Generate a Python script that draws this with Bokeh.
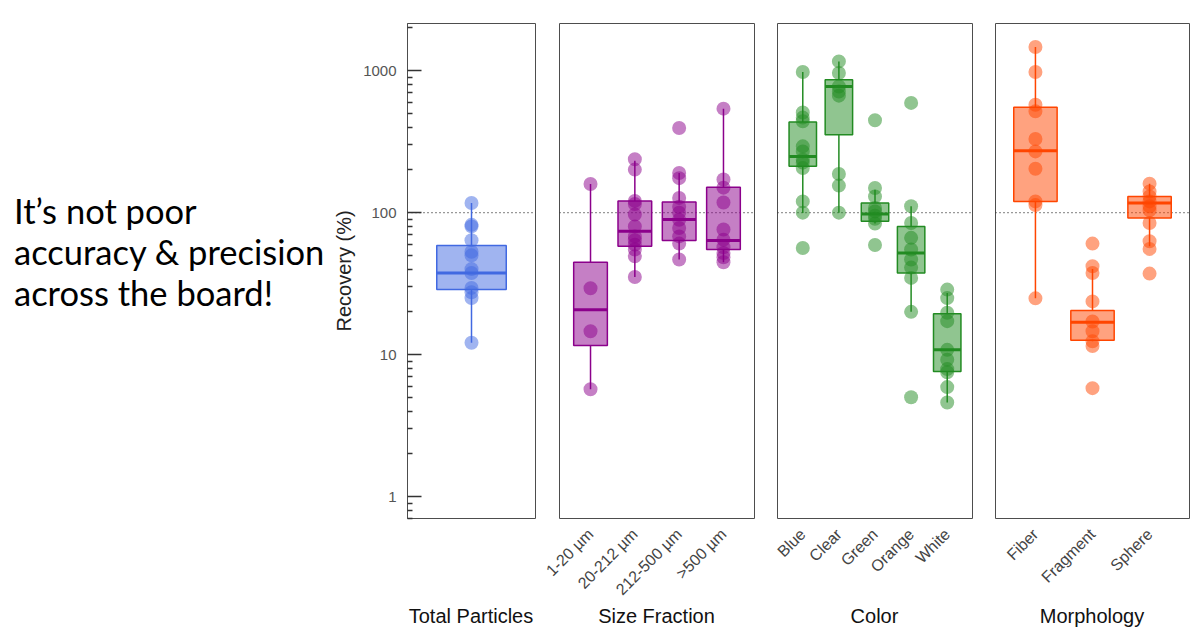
from math import pi

from bokeh.embed import file_html
from bokeh.layouts import row, column
from bokeh.models import (ColumnDataSource, Div, FactorRange, FixedTicker,
                          NumeralTickFormatter, Range1d, Spacer, Span)
from bokeh.plotting import figure
from bokeh.resources import INLINE
from bokeh.transform import dodge

# ---- data: recovery (%) per group -------------------------------------
total_cats = ["Total Particles"]
total_q1 = [28.7]
total_med = [37.6]
total_q3 = [58.6]
total_lo = [12.1]
total_hi = [117]
total_pts = [[117, 82, 80, 64, 53, 50, 40, 37.6, 29.5, 27.5, 25, 12.1]]

size_cats = ["1-20 µm", "20-212 µm", "212-500 µm", ">500 µm"]
size_q1 = [11.6, 57.9, 63.5, 54.9]
size_med = [20.7, 74, 89.3, 63.5]
size_q3 = [44.7, 121, 119, 151]
size_lo = [5.7, 35.2, 46.7, 44.7]
size_hi = [159, 232, 190, 540]
size_pts = [
    [159, 29.3, 14.6, 5.7],
    [238, 201, 121, 115, 97, 80, 68, 64, 59.5, 55, 49.3, 35.2],
    [395, 190, 175, 127, 110, 100, 89, 78, 68, 60.5, 46.7],
    [540, 171, 150, 118, 76, 64.5, 57, 52, 48.5, 44.7],
]

color_cats = ["Blue", "Clear", "Green", "Orange", "White"]
color_q1 = [212, 354, 86.9, 37.6, 7.6]
color_med = [249, 774, 97.9, 52, 10.8]
color_q3 = [435, 865, 117, 80, 19.4]
color_lo = [99.5, 100, 84, 20, 4.6]
color_hi = [979, 1163, 145, 111, 27.2]
color_pts = [
    [979, 508, 467, 440, 293, 270, 236, 225, 206, 120, 100, 56.4],
    [1163, 964, 774, 714, 667, 187, 155, 100],
    [447, 149, 130, 108, 102, 95, 90.6, 83.7, 59.2],
    [593, 111, 84.6, 66.4, 55, 46.7, 41, 34.7, 20, 5.0],
    [28.7, 25, 19.7, 17.2, 10.8, 9.2, 7.9, 7.5, 5.9, 4.6],
]

morph_cats = ["Fiber", "Fragment", "Sphere"]
morph_q1 = [120, 12.6, 91.7]
morph_med = [273, 16.9, 117]
morph_q3 = [552, 20.4, 130]
morph_lo = [24.9, 12.4, 57.9]
morph_hi = [1469, 40, 160]
morph_pts = [
    [1469, 979, 576, 517, 330, 270, 204, 120, 113, 24.9],
    [60.5, 41.9, 37.6, 23.7, 17.1, 14.6, 12.4, 11.5, 5.8],
    [160, 141, 130, 120, 111, 104, 84.6, 62.8, 55.5, 37.2],
]

group_titles = ["Total Particles", "Size Fraction", "Color", "Morphology"]

# ---- styling -----------------------------------------------------------
FONT = "Liberation Sans"
Y_START, Y_END = 0.70, 2150
FRAME_H = 495
BOTTOM = 90
TITLE_H = 28
BOX_W = 0.76


def panel(cats, q1, med, q3, lo, hi, pts, color, frame_w, left, right,
          show_y=False, show_x=True):
    p = figure(
        x_range=FactorRange(factors=cats, range_padding=0.2,
                            range_padding_units="absolute"),
        y_range=Range1d(Y_START, Y_END), y_axis_type="log",
        frame_width=frame_w, frame_height=FRAME_H,
        min_border_left=left, min_border_right=right,
        min_border_top=23, min_border_bottom=BOTTOM,
        x_axis_location="below" if show_x else None,
        y_axis_location="left" if show_y else None,
        toolbar_location=None, output_backend="svg",
    )
    p.margin = 0
    p.grid.visible = False
    p.outline_line_color = "#4d4d4d"
    p.outline_line_width = 1
    p.background_fill_color = "white"
    p.border_fill_color = "white"

    p.add_layout(Span(location=100, dimension="width", line_color="#333333",
                      line_dash="1 3", line_width=1.4, level="underlay"))

    src = ColumnDataSource(dict(cat=cats, q1=q1, med=med, q3=q3, lo=lo, hi=hi))
    # whiskers
    p.segment(x0="cat", y0="lo", x1="cat", y1="q1", source=src,
              line_color=color, line_width=1.5)
    p.segment(x0="cat", y0="q3", x1="cat", y1="hi", source=src,
              line_color=color, line_width=1.5)
    # interquartile box
    p.vbar(x="cat", width=BOX_W, bottom="q1", top="q3", source=src,
           fill_color=color, fill_alpha=0.5, line_color=color, line_width=1.5)
    # median
    p.segment(x0=dodge("cat", -BOX_W / 2, range=p.x_range), y0="med",
              x1=dodge("cat", BOX_W / 2, range=p.x_range), y1="med",
              source=src, line_color=color, line_width=3)
    # individual observations
    px = [c for c, vals in zip(cats, pts) for _ in vals]
    py = [v for vals in pts for v in vals]
    p.scatter(px, py, size=14, fill_color=color, fill_alpha=0.5,
              line_color=None)

    if show_x:
        ax = p.xaxis[0]
        ax.major_label_orientation = pi / 4
        ax.axis_line_color = None
        ax.major_tick_line_color = None
        ax.minor_tick_line_color = None
        ax.major_label_text_font = FONT
        ax.major_label_text_font_size = "16px"
        ax.major_label_text_color = "#444444"
        ax.major_label_standoff = 7

    if show_y:
        minor = [m * 10.0 ** e for e in range(-1, 4) for m in range(2, 10)
                 if Y_START <= m * 10.0 ** e <= Y_END]
        ay = p.yaxis[0]
        ay.ticker = FixedTicker(ticks=[1, 10, 100, 1000], minor_ticks=minor)
        ay.formatter = NumeralTickFormatter(format="0")
        ay.major_tick_in = 14
        ay.major_tick_out = 0
        ay.minor_tick_in = 5
        ay.minor_tick_out = 0
        ay.axis_line_color = "#4d4d4d"
        ay.major_tick_line_color = "#333333"
        ay.minor_tick_line_color = "#333333"
        ay.major_tick_line_width = 1.5
        ay.minor_tick_line_width = 1.5
        ay.major_label_standoff = 11
        ay.major_label_text_font = FONT
        ay.major_label_text_font_size = "15px"
        ay.major_label_text_color = "#555555"
        ay.axis_label = "Recovery (%)"
        ay.axis_label_text_font = FONT
        ay.axis_label_text_font_size = "20px"
        ay.axis_label_text_font_style = "normal"
        ay.axis_label_text_color = "#222222"
        ay.axis_label_standoff = 5
    return p


p1 = panel(total_cats, total_q1, total_med, total_q3, total_lo, total_hi,
           total_pts, "#4169E1", 128, 77, 2, show_y=True, show_x=False)
p2 = panel(size_cats, size_q1, size_med, size_q3, size_lo, size_hi,
           size_pts, "#8B008B", 195, 22, 12)
p3 = panel(color_cats, color_q1, color_med, color_q3, color_lo, color_hi,
           color_pts, "#228B22", 195, 11, 11)
p4 = panel(morph_cats, morph_q1, morph_med, morph_q3, morph_lo, morph_hi,
           morph_pts, "#FF4500", 194, 12, 11)

PANEL_H = 23 + FRAME_H + BOTTOM

note = Div(
    text=('<div style="padding:190px 0 0 14px; font-family:Lato; '
          'font-size:34.5px; line-height:41px; color:#000;">'
          'It’s not poor<br>accuracy &amp; precision<br>across the board!</div>'),
    width=330, height=PANEL_H, margin=0,
)


def title_div(text, w):
    return Div(
        text=(f'<div style="width:{w}px; text-align:center; '
              f"font-family:'{FONT}'; font-size:20px; line-height:16px; "
              f'color:#111;">{text}</div>'),
        width=w, height=TITLE_H, margin=0,
    )


def gap(w):
    return Spacer(width=w, height=TITLE_H, margin=0)


titles = row(
    gap(407), title_div(group_titles[0], 128),
    gap(24), title_div(group_titles[1], 195),
    gap(23), title_div(group_titles[2], 195),
    gap(23), title_div(group_titles[3], 194),
    spacing=0,
)

layout = column(row(note, p1, p2, p3, p4, spacing=0), titles, spacing=0)

with open("out.html", "w") as f:
    f.write(file_html(layout, INLINE))
